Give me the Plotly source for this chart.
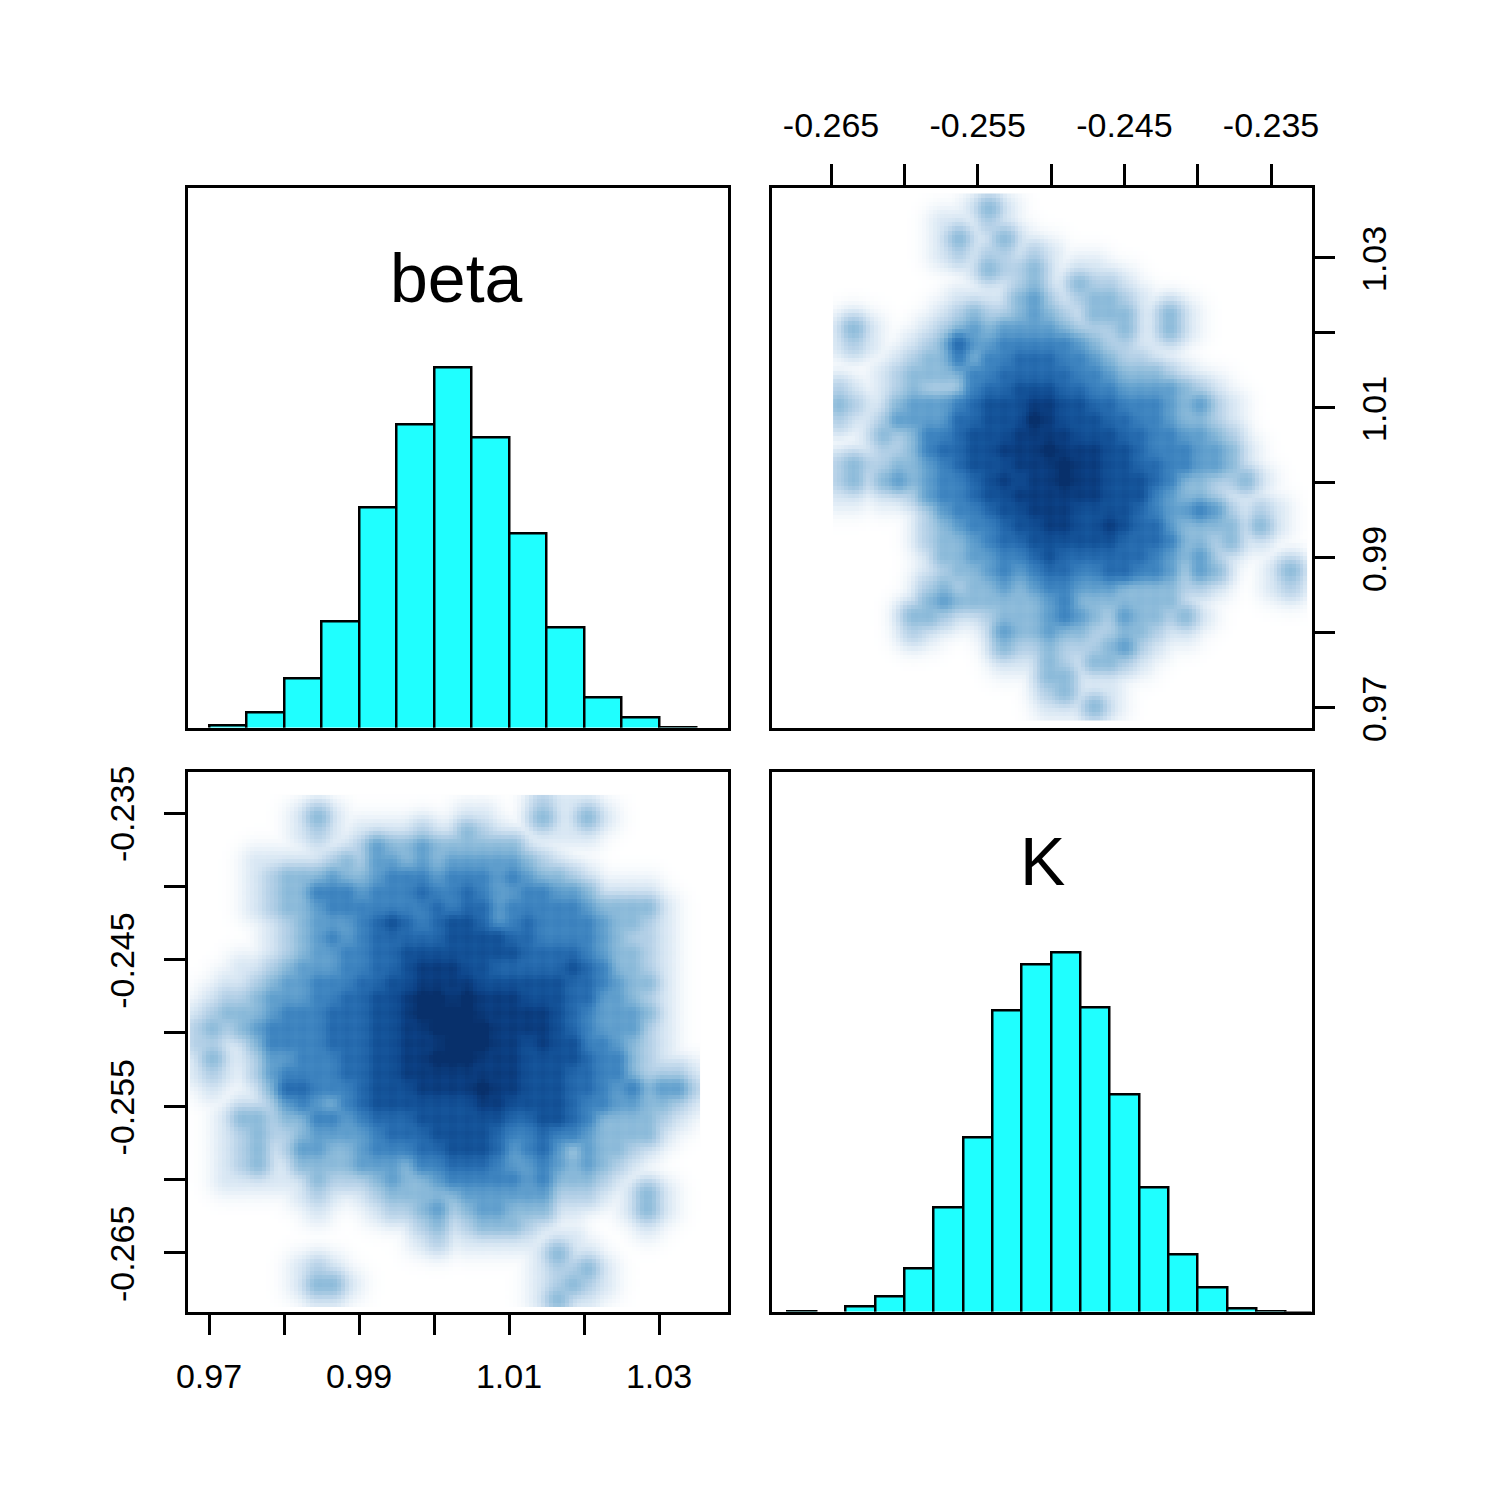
import numpy as np
import plotly.graph_objects as go

# Histogram of beta (bars)
beta_edges = [0.970, 0.975, 0.980, 0.985, 0.990, 0.995, 1.000, 1.005, 1.010, 1.015, 1.020, 1.025, 1.030, 1.035]
beta_counts = [4, 17, 51, 108, 222, 305, 362, 292, 196, 102, 32, 12, 2]

# Histogram of K
k_edges = [-0.268, -0.266, -0.264, -0.262, -0.260, -0.258, -0.256, -0.254, -0.252, -0.250,
           -0.248, -0.246, -0.244, -0.242, -0.240, -0.238, -0.236, -0.234, -0.232]
k_counts = [2, 0, 7, 17, 45, 106, 176, 303, 349, 361, 306, 219, 126, 59, 26, 5, 2, 1]

beta_ticks = [0.97, 0.98, 0.99, 1.00, 1.01, 1.02, 1.03]
beta_labels = ["0.97", "", "0.99", "", "1.01", "", "1.03"]
k_ticks = [-0.265, -0.26, -0.255, -0.25, -0.245, -0.24, -0.235]
k_labels = ["-0.265", "", "-0.255", "", "-0.245", "", "-0.235"]

# Local density levels (0-9), top row first. x = K, y = beta
density_k_beta = [
    "00000 00000 10000 00000 00000 00000 00",
    "00000 00001 31000 00000 00000 00000 00",
    "00000 00110 21000 00000 00000 00000 00",
    "00000 00131 13100 00000 00000 00000 00",
    "00000 00121 22121 00000 00000 00000 00",
    "00000 00001 32231 01100 00000 00000 00",
    "00000 00000 11231 13221 00000 00000 00",
    "00000 00011 11342 12332 10000 00000 00",
    "00000 00123 22343 21333 11310 00000 00",
    "13100 01234 34444 32223 11310 00000 00",
    "12100 12364 45555 54322 11100 00000 00",
    "00001 23353 55666 55432 21000 00000 00",
    "00012 33335 56666 65543 33210 00000 00",
    "21012 32225 66777 66554 44432 10000 00",
    "32113 44456 77788 77665 55434 21000 00",
    "21124 44466 77798 77766 55433 21000 00",
    "00132 35567 77888 87776 65544 32000 00",
    "00122 35667 78889 88877 65554 43100 00",
    "23223 34567 77888 98877 66554 43100 00",
    "23134 34556 78788 98877 76533 22310 00",
    "11011 24556 77888 88877 75433 21100 00",
    "00000 02455 67788 87777 65445 42121 00",
    "00000 02345 56778 87787 66433 33131 00",
    "00000 02334 56677 77776 66533 23110 00",
    "00000 01334 45567 66666 65434 21000 00",
    "00000 01233 45456 65566 55424 30001 30",
    "00000 02323 34345 54443 33322 10001 20",
    "00000 03433 33334 53333 33310 00000 00",
    "00000 33211 23334 54324 33231 00000 00",
    "00000 21000 14334 33223 32110 00000 00",
    "00000 00000 03223 22234 21000 00000 00",
    "00000 00000 01113 21332 10000 00000 00",
    "00000 00000 00003 31110 00000 00000 00",
    "00000 00000 00002 31110 00000 00000 00",
    "00000 00000 00001 11310 00000 00000 00",
    "00000 00000 00000 00000 00000 00000 00",
]

# x = beta, y = K
density_beta_k = [
    "00000 00000 00000 00000 00021 11000 0000",
    "00000 00131 00000 00011 00031 13100 0000",
    "00000 00121 01111 21132 10011 11000 0000",
    "00000 00010 12433 43333 33100 00000 0000",
    "00001 11112 32443 43444 44321 00000 0000",
    "00001 23334 33455 54555 45433 21000 0000",
    "00001 23355 54555 65565 44554 43111 1000",
    "00001 23345 55555 56566 45555 54333 3100",
    "00000 12344 45676 56776 45655 55433 2100",
    "00000 12345 45666 66777 76655 55432 2100",
    "00000 12344 55667 77777 77666 65433 2100",
    "00011 23444 55667 88877 66666 76533 2100",
    "00112 34455 56677 88887 77777 66543 3100",
    "01223 44455 66778 99898 88777 66443 2100",
    "12333 45556 66778 99998 88887 65444 3100",
    "23234 55556 66778 89999 88887 65444 2100",
    "22113 55556 66778 88999 88787 75543 2100",
    "13112 44555 66778 89998 88777 76553 2100",
    "12102 45555 66778 88888 88777 66553 2221",
    "01001 36655 56777 88889 88777 66545 3442",
    "00011 24543 56777 77778 87777 65544 3321",
    "00133 23355 45666 77777 76677 65333 3210",
    "00123 22344 44566 67777 65565 54333 3100",
    "00123 12443 34555 66777 64564 24332 1000",
    "00123 11333 34443 55666 54454 34321 0000",
    "00111 11132 22343 34555 55453 33210 0000",
    "00000 00121 01233 33344 44442 22101 3100",
    "00000 00010 00122 34234 43331 10001 3100",
    "00000 00000 00000 23123 33210 00000 1000",
    "00000 00000 00000 12011 11101 10000 0000",
    "00000 00000 00000 00000 00013 11000 0000",
    "00000 00121 00000 00000 00012 23100 0000",
    "00000 00133 10000 00000 00012 32100 0000",
    "00000 00011 00000 00000 00013 11000 0000",
]

# Axis limits
beta_range = [0.96713, 1.03913]
beta_range_v = [0.96727, 1.03927]
k_range = [-0.26906, -0.23224]
k_range_v = [-0.26899, -0.23217]
# Where the typed cells of each density grid lie, and where its image stops
tr_cells_x = [-0.26500, -0.23214]
tr_cells_y = [0.96707, 1.03947]
tr_image_x = [-0.26486, -0.23255]
tr_image_y = [0.96827, 1.03847]
bl_cells_x = [0.96747, 1.03547]
bl_cells_y = [-0.26868, -0.23377]
# Smoothing bandwidth of the density image, as on the axes of each variable
beta_bw = 0.00086
k_bw = 0.00044
IMAGE_BINS = 128

PALETTE = ["#FFFFFF", "#DAE8F4", "#B7D2E8", "#90BDDB", "#66A3CF",
           "#4288C2", "#2A70B3", "#16579D", "#0C4287", "#08306B"]
COLORSCALE = [[i / 9, c] for i, c in enumerate(PALETTE)]
FONT = "Liberation Sans"
LW = 2.5
SIZE = 1484
BODY = 8


def parse(rows):
    return np.array([[int(ch) for ch in r.replace(" ", "")] for r in rows][::-1], dtype=float)


def centers(extent, n):
    e = np.linspace(extent[0], extent[1], n + 1)
    return (e[:-1] + e[1:]) / 2


def px(p):
    return (p - BODY) / SIZE


def dom(a, b):
    return [px(a), px(b)]


def vdom(top, bottom):
    return [1 - px(bottom), 1 - px(top)]


fig = go.Figure()


def bars(edges, counts, xa, ya):
    e = np.array(edges)
    fig.add_trace(go.Bar(x=(e[:-1] + e[1:]) / 2, y=counts, width=e[1:] - e[:-1],
                         marker=dict(color="#1FFFFF", line=dict(color="black", width=LW)),
                         xaxis=xa, yaxis=ya, showlegend=False, hoverinfo="skip"))


def kernel(fine, cells, bw):
    return np.exp(-((fine[:, None] - cells[None, :]) ** 2) / (2 * bw ** 2))


def density(rows, cells_x, cells_y, image_x, image_y, bw_x, bw_y, xa, ya):
    # Same construction as a smoothed scatter: read levels -> local counts ->
    # Gaussian kernel -> fourth-root colour scale, where one isolated point peaks at level 3.
    levels = parse(rows)
    cx = centers(cells_x, levels.shape[1])
    cy = centers(cells_y, levels.shape[0])
    fx = centers(image_x, IMAGE_BINS)
    fy = centers(image_y, IMAGE_BINS)
    counts = (levels / 3) ** 4
    d = kernel(fy, cy, bw_y) @ counts @ kernel(fx, cx, bw_x).T
    z = 3 * d ** 0.25
    fig.add_trace(go.Heatmap(z=z, x=fx, y=fy, zmin=0, zmax=9, colorscale=COLORSCALE,
                             showscale=False, xaxis=xa, yaxis=ya, hoverinfo="skip"))


bars(beta_edges, beta_counts, "x", "y")
density(density_k_beta, tr_cells_x, tr_cells_y, tr_image_x, tr_image_y, k_bw, beta_bw, "x2", "y2")
density(density_beta_k, bl_cells_x, bl_cells_y, bl_cells_x, bl_cells_y, beta_bw, k_bw, "x3", "y3")
bars(k_edges, k_counts, "x4", "y4")

base = dict(showline=True, linecolor="black", linewidth=LW, mirror=True, showgrid=False,
            zeroline=False, fixedrange=True, automargin=False)
noticks = dict(base, ticks="", showticklabels=False)
ticked = dict(base, ticks="outside", ticklen=21, tickwidth=LW, tickcolor="black", tickmode="array",
              tickfont=dict(family=FONT, size=34, color="black"))
L, R, G1, G2 = 187.5, 727.5, 771.5, 1311.5

fig.update_layout(
    width=SIZE, height=SIZE, margin=dict(l=0, r=0, t=0, b=0, pad=0, autoexpand=False), autosize=False,
    paper_bgcolor="white", plot_bgcolor="white", bargap=0, showlegend=False,
    xaxis=dict(noticks, domain=dom(L, R), range=beta_range, anchor="y"),
    yaxis=dict(noticks, domain=vdom(L, R), range=[1.5, 541.5], anchor="x"),
    xaxis2=dict(ticked, domain=dom(G1, G2), range=k_range, anchor="y2", side="top",
                tickvals=k_ticks, ticktext=k_labels, ticklabelstandoff=13),
    yaxis2=dict(ticked, domain=vdom(L, R), range=beta_range_v, anchor="x2", side="right",
                tickvals=beta_ticks, ticktext=beta_labels, tickangle=-90, ticklabelstandoff=10,
                ticklabelshift=7),
    xaxis3=dict(ticked, domain=dom(L, R), range=beta_range, anchor="y3", side="bottom",
                tickvals=beta_ticks, ticktext=beta_labels, ticklabelstandoff=12),
    yaxis3=dict(ticked, domain=vdom(G1, G2), range=k_range_v, anchor="x3", side="left",
                tickvals=k_ticks, ticktext=k_labels, tickangle=-90, ticklabelstandoff=16,
                ticklabelshift=6),
    xaxis4=dict(noticks, domain=dom(G1, G2), range=k_range, anchor="y4"),
    yaxis4=dict(noticks, domain=vdom(G1, G2), range=[1.5, 541.5], anchor="x4"),
    annotations=[
        dict(text="beta", x=px(457), y=1 - px(278), xref="paper", yref="paper",
             showarrow=False, xanchor="center", yanchor="middle",
             font=dict(family=FONT, size=68, color="black")),
        dict(text="K", x=px(1042), y=1 - px(861), xref="paper", yref="paper",
             showarrow=False, xanchor="center", yanchor="middle",
             font=dict(family=FONT, size=68, color="black")),
    ],
)

fig.write_html("out.html")
